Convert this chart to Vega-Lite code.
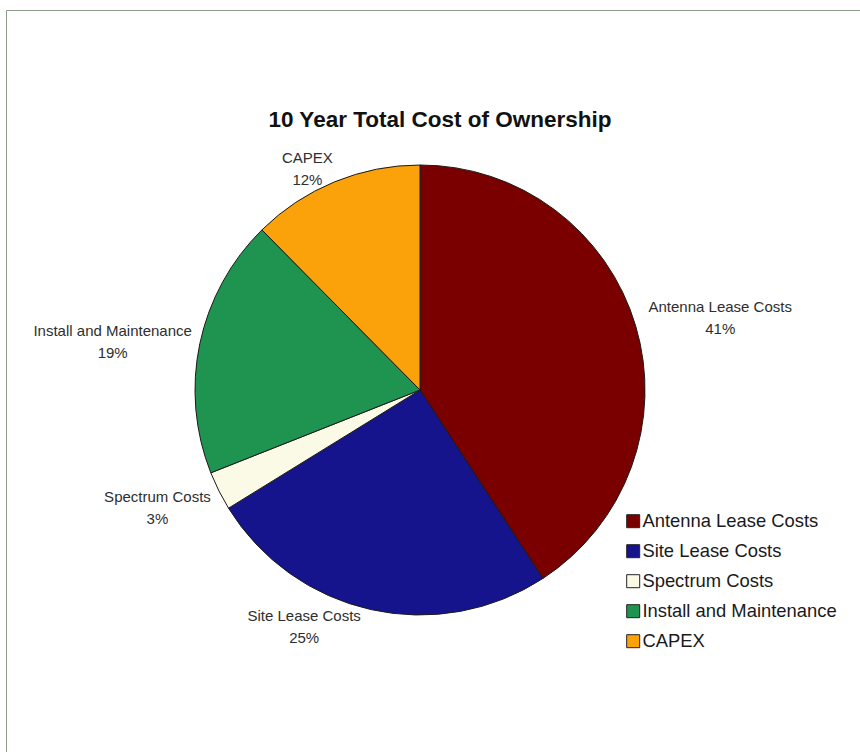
{
  "$schema": "https://vega.github.io/schema/vega-lite/v6.json",
  "width": 854,
  "height": 742,
  "autosize": {"type": "none"},
  "padding": {"left": 6, "top": 10, "right": 0, "bottom": 0},
  "background": "white",
  "view": {"stroke": "#8c9c88", "strokeWidth": 1, "fill": "white"},
  "title": {
    "text": "10 Year Total Cost of Ownership",
    "fontSize": 22.5,
    "fontWeight": "bold",
    "font": "Liberation Sans",
    "color": "#111111",
    "anchor": "middle",
    "frame": "group",
    "offset": 0,
    "dx": 7,
    "dy": 121
  },
  "data": {
    "values": [
      {"category": "Antenna Lease Costs", "value": 40.8},
      {"category": "Site Lease Costs", "value": 25.4},
      {"category": "Spectrum Costs", "value": 2.8},
      {"category": "Install and Maintenance", "value": 18.6},
      {"category": "CAPEX", "value": 12.4}
    ]
  },
  "transform": [
    {"window": [{"op": "row_number", "as": "i"}]},
    {"calculate": "datum.category + '|' + round(datum.value) + '%'", "as": "label"}
  ],
  "encoding": {
    "theta": {"field": "value", "type": "quantitative", "stack": true},
    "order": {"field": "i", "type": "quantitative"}
  },
  "layer": [
    {
      "mark": {"type": "arc", "outerRadius": 225, "stroke": "#1a1a1a", "strokeWidth": 1, "xOffset": -13, "yOffset": 9},
      "encoding": {
        "color": {
          "field": "category",
          "type": "nominal",
          "sort": ["Antenna Lease Costs", "Site Lease Costs", "Spectrum Costs", "Install and Maintenance", "CAPEX"],
          "scale": {
            "domain": ["Antenna Lease Costs", "Site Lease Costs", "Spectrum Costs", "Install and Maintenance", "CAPEX"],
            "range": ["#7a0000", "#16148c", "#fbfae6", "#1f9450", "#fba20a"]
          },
          "legend": {
            "orient": "none",
            "legendX": 618,
            "legendY": 502,
            "title": null,
            "symbolType": "square",
            "symbolSize": 169,
            "symbolStrokeColor": "#222222",
            "symbolStrokeWidth": 1,
            "labelFont": "Liberation Sans",
            "labelFontSize": 18.4,
            "labelColor": "#1a1a1a",
            "labelOffset": 0,
            "labelLimit": 400,
            "rowPadding": 11,
            "padding": 0
          }
        }
      }
    },
    {
      "mark": {"type": "text", "font": "Liberation Sans", "fontSize": 15, "color": "#2e2e2e", "lineBreak": "|", "lineHeight": 22, "align": "center", "baseline": "middle", "radius": 308, "xOffset": -13, "yOffset": 9, "dx": 5, "dy": 5},
      "encoding": {"text": {"condition": {"test": "datum.category === 'Antenna Lease Costs'", "field": "label"}, "value": ""}}
    },
    {
      "mark": {"type": "text", "font": "Liberation Sans", "fontSize": 15, "color": "#2e2e2e", "lineBreak": "|", "lineHeight": 22, "align": "center", "baseline": "middle", "radius": 256, "xOffset": -13, "yOffset": 9, "dx": -60, "dy": -24},
      "encoding": {"text": {"condition": {"test": "datum.category === 'Site Lease Costs'", "field": "label"}, "value": ""}}
    },
    {
      "mark": {"type": "text", "font": "Liberation Sans", "fontSize": 15, "color": "#2e2e2e", "lineBreak": "|", "lineHeight": 22, "align": "center", "baseline": "middle", "radius": 287, "xOffset": -13, "yOffset": 9, "dx": -6, "dy": -22},
      "encoding": {"text": {"condition": {"test": "datum.category === 'Spectrum Costs'", "field": "label"}, "value": ""}}
    },
    {
      "mark": {"type": "text", "font": "Liberation Sans", "fontSize": 15, "color": "#2e2e2e", "lineBreak": "|", "lineHeight": 22, "align": "center", "baseline": "middle", "radius": 311, "xOffset": -13, "yOffset": 9, "dx": -3, "dy": 5},
      "encoding": {"text": {"condition": {"test": "datum.category === 'Install and Maintenance'", "field": "label"}, "value": ""}}
    },
    {
      "mark": {"type": "text", "font": "Liberation Sans", "fontSize": 15, "color": "#2e2e2e", "lineBreak": "|", "lineHeight": 22, "align": "center", "baseline": "middle", "radius": 249, "xOffset": -13, "yOffset": 9, "dx": -18, "dy": -2},
      "encoding": {"text": {"condition": {"test": "datum.category === 'CAPEX'", "field": "label"}, "value": ""}}
    }
  ]
}
